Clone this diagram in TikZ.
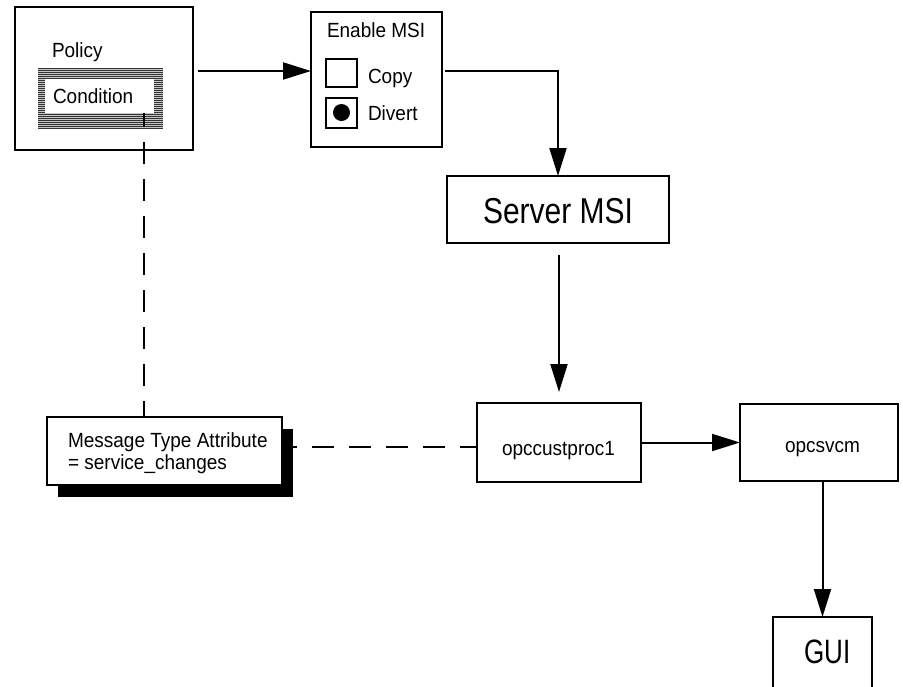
\documentclass[tikz,border=0pt]{standalone}
\usepackage{fontspec}
\usepackage{graphicx}
\setmainfont{Liberation Sans}
\usetikzlibrary{arrows.meta}
\begin{document}
\begin{tikzpicture}[x=1pt,y=-1pt]
\tikzset{
  bx/.style={draw=black, line width=2pt, fill=white, inner sep=0pt, outer sep=0pt, rectangle},
  lbl/.style={inner sep=0pt, outer sep=0pt, anchor=base west, font=\fontsize{19}{22}\selectfont},
  biglbl/.style={inner sep=0pt, outer sep=0pt, anchor=base west, font=\fontsize{30}{36}\selectfont},
  arr/.style={line width=2pt, -{Triangle[length=28pt,width=17pt]}},
  dsh/.style={line width=2pt, dash pattern=on 22pt off 15pt},
  hatch/.style={inner sep=0pt, outer sep=0pt, fill=gray!45,
    path picture={\foreach \i in {0,...,30}
      \draw[black!80, line width=0.9pt]
        ([yshift=-2*\i pt]path picture bounding box.north west) --
        ([yshift=-2*\i pt]path picture bounding box.north east);}},
}
\useasboundingbox (0,0) rectangle (903,686);

% Policy
\node[bx, minimum width=178, minimum height=143] (pol) at (104,78.5) {};
\node[hatch, minimum width=125, minimum height=60] (condh) at (100.5,98) {};
\coordinate (vstart) at (144,105);
\node[bx, minimum width=235, minimum height=68] (msgdummy) at (164.5,451) {};
\draw[dsh] (vstart) -- (vstart |- msgdummy.north);
\node[inner sep=0pt, outer sep=0pt, fill=white, minimum width=109, minimum height=34] (cond) at (99.5,96) {};
\node[lbl] (tpol) at (52,57) {\scalebox{1}[1.08]{Policy}};
\node[lbl] (tcond) at (53,103) {\scalebox{1}[1.08]{Condition}};

% Enable MSI
\node[bx, minimum width=131, minimum height=135] (ems) at (376.5,79.5) {};
\node[lbl] (tems) at (327,37) {\scalebox{1}[1.08]{Enable MSI}};
\node[bx, minimum width=31, minimum height=28] (cbcopy) at (341.5,72.5) {};
\node[bx, minimum width=31, minimum height=30] (cbdiv) at (341.5,112.5) {};
\node[circle, fill=black, inner sep=0pt, minimum size=17] (dot) at (cbdiv.center) {};
\node[lbl] (tcopy) at (368,83) {\scalebox{1}[1.08]{Copy}};
\node[lbl] (tdiv) at (368,120) {\scalebox{1}[1.08]{Divert}};

% Server MSI
\node[bx, minimum width=222, minimum height=67] (srv) at (558,209.5) {};
\node[biglbl] (tsrv) at (483,223) {\scalebox{1}[1.2]{Server MSI}};

% opccustproc1, opcsvcm, GUI
\node[bx, minimum width=164, minimum height=79] (occ) at (559,442.5) {};
\node[lbl] (tocc) at (502,455) {\scalebox{1}[1.08]{opccustproc1}};
\node[bx, minimum width=158, minimum height=77] (svc) at (819,442.5) {};
\node[lbl] (tsvc) at (785,452) {\scalebox{1}[1.08]{opcsvcm}};
\node[bx, minimum width=99, minimum height=75] (gui) at (822.5,654.5) {};
\node[inner sep=0pt, outer sep=0pt, anchor=base west, font=\fontsize{26}{30}\selectfont] (tgui) at (804,663) {\scalebox{1}[1.3]{GUI}};

% Message box with shadow
\node[rectangle, fill=black, inner sep=0pt, outer sep=0pt, minimum width=235, minimum height=68] (msgsh) at (175.5,463) {};
\node[bx, minimum width=235, minimum height=68] (msg) at (164.5,451) {};
\node[lbl] (tmsg1) at (68,447) {\scalebox{1}[1.08]{Message Type Attribute}};
\node[lbl] (tmsg2) at (68,469) {\scalebox{1}[1.08]{= service\_changes}};

% connectors
\coordinate (c71) at (0,71);
\coordinate (cdash) at (0,447);
\draw[arr] ([xshift=5pt]pol.east |- c71) -- (ems.west |- c71);
\draw[arr] ([xshift=3pt]ems.east |- c71) -| (srv.north);
\draw[arr] ([yshift=-12pt]srv.south -| occ.north) -- ([yshift=11pt]occ.north);
\draw[arr] (occ.east) -- (svc.west);
\draw[arr] (svc.south -| gui.north) -- (gui.north);
\draw[dsh, dash phase=18pt] (msgsh.east |- cdash) -- (occ.west |- cdash);
\end{tikzpicture}
\end{document}
